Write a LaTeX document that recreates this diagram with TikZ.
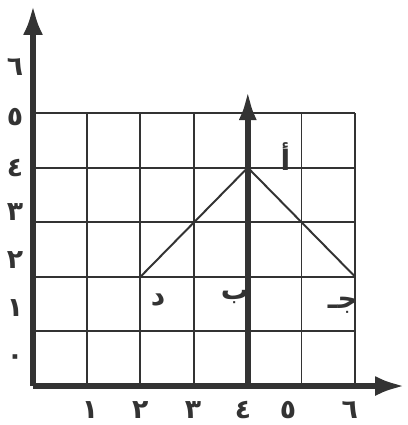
\documentclass[tikz,border=0pt]{standalone}
\usepackage{fontspec}
\usetikzlibrary{arrows.meta}
\newfontfamily\arabicfont[Script=Arabic]{DejaVu Sans}
\TeXXeTstate=1
\definecolor{ink}{HTML}{333333}

\begin{document}
\begin{tikzpicture}[x=1.3425cm,y=1.365cm,
    axis/.style={ink,line width=4.2pt,-{Latex[length=0.75cm,width=0.5cm]}},
    gridline/.style={ink,line width=1.4pt},
    edge/.style={ink,line width=1.4pt},
    lbl/.style={ink,font=\arabicfont\bfseries\fontsize{19}{21}\selectfont,inner sep=0pt},
    letter/.style={ink,font=\arabicfont\bfseries\fontsize{20}{22}\selectfont,inner sep=0pt}
]
\useasboundingbox (-0.6145,-0.714) rectangle (6.965,7.07);

% Grid
\foreach \x in {1,...,6}
    \draw[gridline] (\x,0) -- (\x,5);
\foreach \y in {1,...,5}
    \draw[gridline] (0,\y) -- (6,\y);

% Axes
\coordinate (O) at (0,0);
\coordinate (xend) at (6.93,0);
\coordinate (yend) at (0,6.98);
\draw[axis] (O) -- (xend);
\draw[axis] (O) -- (yend);

% Axis through b
\coordinate (B0) at (4,0);
\coordinate (Btop) at (4,5.42);
\draw[axis,-{Latex[length=0.75cm,width=0.45cm]}] (B0) -- (Btop);

% Triangle sides
\coordinate (D) at (2,2);
\coordinate (A) at (4,4);
\coordinate (J) at (6,2);
\draw[edge] (D) -- (A) -- (J);

% Point labels
\node[letter] (la) at (4.7,4.21) {\beginR أ\endR};
\node[letter] (lb) at (3.76,1.63) {\beginR ب\endR};
\node[letter] (ld) at (2.33,1.58) {\beginR د\endR};
\node[letter] (lj) at (5.77,1.48) {\beginR جـ\endR};

% Axis numbers
\foreach \d/\y [count=\i] in {٠/0.48,١/1.43,٢/2.31,٣/3.19,٤/3.99,٥/4.93,٦/5.84}
    \node[lbl] (ylab\i) at (-0.335,\y) {\beginR\d\endR};
\foreach \d/\x [count=\i] in {١/1.06,٢/2.0,٣/2.98,٤/3.91,٥/4.75,٦/5.9}
    \node[lbl] (xlab\i) at (\x,-0.44) {\beginR\d\endR};

\end{tikzpicture}
\end{document}
